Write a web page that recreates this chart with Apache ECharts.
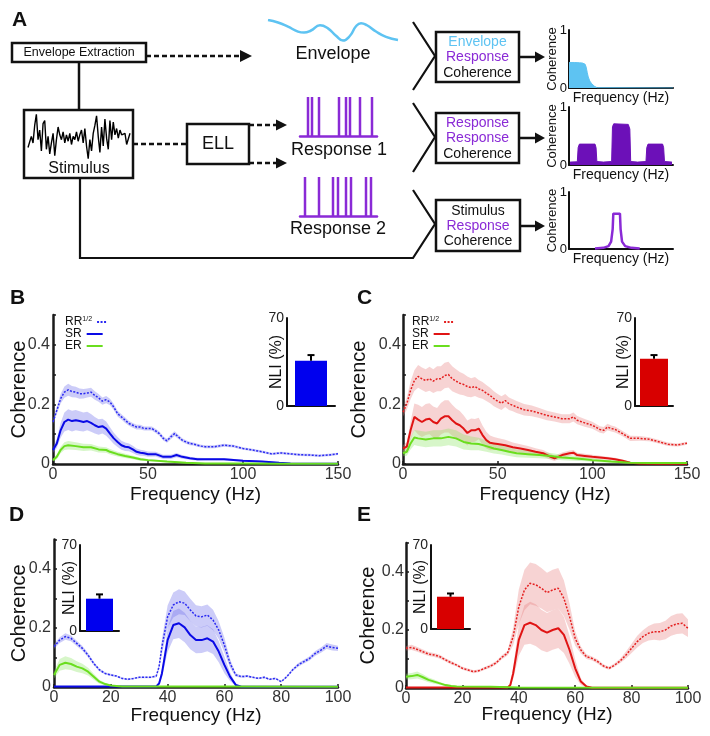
<!DOCTYPE html>
<html><head><meta charset="utf-8">
<script src="https://cdn.jsdelivr.net/npm/echarts@6/dist/echarts.min.js"></script>
<style>html,body{margin:0;padding:0;background:#fff}#c{width:710px;height:736px}</style>
</head><body><div id="c"></div>
<script>
// ---------- DATA ----------
// each curve point: [frequency Hz, mean coherence, half-width of shaded band]
const B_RR = [[0,0.141,0.008],[2,0.18,0.012],[4,0.219,0.016],[6,0.241,0.019],[8,0.249,0.02],[10,0.243,0.019],[12,0.241,0.018],[14,0.236,0.017],[16,0.236,0.016],[18,0.238,0.015],[20,0.241,0.015],[22,0.23,0.014],[24,0.222,0.013],[26,0.211,0.012],[28,0.216,0.012],[30,0.208,0.011],[32,0.191,0.01],[34,0.169,0.01],[36,0.158,0.009],[38,0.147,0.009],[40,0.136,0.008],[42,0.13,0.008],[44,0.124,0.008],[46,0.124,0.008],[48,0.119,0.007],[50,0.119,0.007],[52,0.119,0.007],[54,0.111,0.007],[56,0.102,0.007],[58,0.086,0.007],[60,0.078,0.007],[62,0.091,0.008],[64,0.102,0.008],[66,0.091,0.007],[68,0.08,0.006],[70,0.074,0.006],[72,0.069,0.006],[74,0.067,0.005],[76,0.063,0.005],[78,0.06,0.005],[80,0.058,0.005],[85,0.058,0.005],[90,0.063,0.005],[95,0.06,0.005],[100,0.052,0.004],[105,0.047,0.004],[110,0.041,0.004],[115,0.034,0.004],[120,0.037,0.004],[125,0.034,0.004],[130,0.031,0.004],[135,0.03,0.004],[140,0.028,0.004],[145,0.03,0.004],[150,0.034,0.004]];
const B_SR = [[0,0.047,0.01],[2,0.069,0.015],[4,0.113,0.025],[6,0.141,0.032],[8,0.149,0.035],[10,0.144,0.035],[12,0.147,0.034],[14,0.144,0.033],[16,0.141,0.032],[18,0.144,0.031],[20,0.138,0.03],[22,0.13,0.028],[24,0.124,0.026],[26,0.127,0.025],[28,0.119,0.024],[30,0.102,0.021],[32,0.086,0.019],[34,0.074,0.017],[36,0.063,0.015],[38,0.058,0.014],[40,0.056,0.013],[42,0.049,0.012],[44,0.041,0.011],[46,0.038,0.01],[48,0.036,0.009],[50,0.033,0.009],[54,0.033,0.008],[58,0.024,0.007],[62,0.024,0.007],[65,0.03,0.007],[68,0.024,0.006],[72,0.019,0.005],[76,0.016,0.005],[80,0.016,0.004],[90,0.016,0.004],[100,0.011,0.003],[110,0.008,0.003],[119,0.004,0.002],[125,0.002,0.001],[135,0.001,0.001],[150,0.001,0.001]];
const B_ER = [[0,0.013,0.005],[2,0.024,0.008],[4,0.047,0.011],[6,0.06,0.013],[8,0.063,0.014],[12,0.06,0.013],[16,0.056,0.012],[20,0.056,0.011],[24,0.049,0.01],[28,0.047,0.009],[30,0.041,0.009],[34,0.033,0.008],[38,0.027,0.007],[42,0.022,0.006],[46,0.016,0.005],[50,0.013,0.004],[60,0.008,0.003],[70,0.004,0.002],[80,0.002,0.001],[100,0.002,0.001],[120,0.001,0.001],[150,0.001,0.001]];
const C_RR = [[0,0.174,0.015],[2,0.202,0.02],[4,0.247,0.03],[6,0.28,0.035],[8,0.294,0.038],[10,0.286,0.038],[12,0.28,0.038],[14,0.286,0.04],[16,0.278,0.04],[18,0.286,0.042],[20,0.286,0.042],[22,0.297,0.043],[24,0.3,0.043],[26,0.286,0.042],[28,0.278,0.04],[30,0.271,0.038],[32,0.267,0.036],[34,0.26,0.034],[36,0.256,0.032],[38,0.26,0.032],[40,0.252,0.03],[42,0.247,0.028],[44,0.238,0.027],[46,0.23,0.026],[48,0.219,0.025],[50,0.211,0.024],[52,0.204,0.023],[54,0.213,0.022],[56,0.202,0.021],[58,0.197,0.02],[60,0.191,0.02],[64,0.182,0.019],[68,0.178,0.018],[72,0.171,0.017],[76,0.163,0.016],[80,0.158,0.015],[84,0.152,0.015],[88,0.152,0.015],[90,0.158,0.015],[92,0.147,0.014],[96,0.138,0.013],[100,0.13,0.012],[104,0.116,0.011],[106,0.113,0.011],[108,0.124,0.011],[110,0.119,0.01],[112,0.116,0.01],[116,0.102,0.009],[120,0.086,0.009],[125,0.086,0.008],[130,0.083,0.007],[135,0.075,0.006],[140,0.066,0.006],[145,0.064,0.005],[150,0.07,0.005]];
const C_SR = [[0,0.052,0.012],[2,0.058,0.015],[4,0.113,0.03],[6,0.158,0.045],[8,0.149,0.05],[10,0.141,0.05],[12,0.149,0.052],[14,0.152,0.052],[16,0.141,0.052],[18,0.136,0.052],[20,0.152,0.053],[22,0.16,0.054],[24,0.16,0.054],[26,0.147,0.052],[28,0.136,0.05],[30,0.13,0.048],[32,0.119,0.045],[34,0.104,0.042],[36,0.113,0.04],[38,0.113,0.038],[40,0.119,0.036],[42,0.097,0.032],[44,0.08,0.028],[46,0.071,0.025],[48,0.069,0.022],[50,0.067,0.02],[54,0.063,0.018],[58,0.056,0.016],[62,0.052,0.014],[66,0.047,0.013],[70,0.041,0.012],[74,0.036,0.011],[78,0.024,0.01],[80,0.019,0.009],[84,0.03,0.009],[88,0.036,0.009],[90,0.038,0.009],[92,0.03,0.008],[96,0.027,0.007],[100,0.024,0.007],[104,0.022,0.006],[108,0.019,0.005],[112,0.016,0.005],[116,0.011,0.004],[120,0.004,0.003],[125,0.002,0.002],[135,0.001,0.001],[150,0.001,0.001]];
const C_ER = [[0,0.036,0.01],[2,0.041,0.013],[4,0.069,0.02],[6,0.089,0.025],[8,0.086,0.026],[12,0.082,0.026],[16,0.086,0.027],[20,0.086,0.027],[24,0.091,0.028],[28,0.086,0.027],[32,0.074,0.025],[36,0.069,0.023],[40,0.067,0.021],[44,0.06,0.019],[48,0.052,0.017],[52,0.047,0.015],[56,0.041,0.014],[60,0.036,0.013],[66,0.033,0.012],[72,0.03,0.011],[78,0.027,0.01],[84,0.022,0.009],[90,0.019,0.008],[96,0.016,0.007],[100,0.013,0.006],[110,0.008,0.005],[120,0.004,0.003],[130,0.003,0.002],[150,0.003,0.002]];
const D_RR = [[0,0.137,0.008],[2,0.159,0.01],[4,0.171,0.011],[6,0.165,0.01],[8,0.148,0.009],[10,0.131,0.008],[12,0.108,0.007],[14,0.08,0.006],[16,0.058,0.005],[18,0.046,0.004],[20,0.041,0.004],[22,0.037,0.003],[24,0.029,0.003],[26,0.026,0.003],[28,0.029,0.003],[30,0.033,0.003],[32,0.033,0.003],[34,0.033,0.003],[36,0.037,0.004],[37,0.069,0.01],[38,0.137,0.025],[40,0.238,0.038],[42,0.278,0.042],[44,0.289,0.042],[46,0.284,0.04],[48,0.261,0.038],[50,0.241,0.036],[52,0.238,0.036],[54,0.244,0.036],[56,0.227,0.035],[58,0.193,0.03],[60,0.142,0.025],[62,0.08,0.015],[64,0.041,0.006],[66,0.035,0.004],[68,0.037,0.004],[70,0.033,0.003],[72,0.029,0.003],[74,0.033,0.003],[76,0.026,0.003],[78,0.029,0.003],[80,0.018,0.003],[82,0.035,0.004],[84,0.058,0.005],[86,0.075,0.006],[88,0.086,0.006],[90,0.097,0.007],[92,0.114,0.008],[94,0.125,0.009],[96,0.139,0.01],[98,0.134,0.01],[100,0.131,0.009]];
const D_SR = [[0,0.002,0.001],[20,0.002,0.001],[36,0.002,0.001],[37,0.012,0.005],[38,0.046,0.015],[40,0.159,0.04],[42,0.21,0.048],[44,0.216,0.05],[46,0.202,0.05],[48,0.176,0.048],[50,0.159,0.045],[52,0.159,0.044],[54,0.165,0.044],[56,0.154,0.042],[58,0.12,0.036],[60,0.075,0.028],[62,0.035,0.015],[64,0.007,0.004],[66,0.001,0.001],[100,0.001,0.001]];
const D_ER = [[0,0.041,0.012],[2,0.075,0.02],[4,0.082,0.022],[6,0.078,0.02],[8,0.069,0.018],[10,0.063,0.016],[12,0.052,0.013],[14,0.035,0.01],[16,0.018,0.007],[18,0.01,0.004],[20,0.005,0.002],[24,0.002,0.001],[60,0.002,0.001],[100,0.001,0.001]];
const E_RR = [[0,0.137,0.008],[2,0.14,0.009],[4,0.133,0.008],[6,0.125,0.008],[8,0.117,0.007],[10,0.114,0.007],[12,0.108,0.007],[14,0.097,0.006],[16,0.087,0.006],[18,0.079,0.005],[20,0.068,0.005],[22,0.062,0.005],[24,0.056,0.005],[26,0.06,0.005],[28,0.068,0.005],[30,0.076,0.006],[32,0.087,0.006],[34,0.106,0.007],[36,0.12,0.008],[38,0.177,0.03],[40,0.28,0.06],[42,0.338,0.07],[44,0.361,0.072],[46,0.356,0.072],[48,0.344,0.07],[50,0.329,0.068],[52,0.338,0.07],[54,0.344,0.07],[56,0.309,0.062],[58,0.246,0.045],[60,0.171,0.025],[62,0.131,0.012],[64,0.108,0.008],[66,0.102,0.007],[68,0.091,0.007],[70,0.076,0.006],[72,0.068,0.005],[74,0.079,0.006],[76,0.094,0.008],[78,0.114,0.012],[80,0.137,0.016],[82,0.16,0.02],[84,0.177,0.022],[86,0.189,0.025],[88,0.194,0.028],[90,0.194,0.03],[92,0.2,0.032],[94,0.214,0.034],[96,0.221,0.035],[98,0.223,0.035],[100,0.206,0.03]];
const E_SR = [[0,0.002,0.001],[36,0.002,0.001],[37,0.01,0.004],[38,0.05,0.02],[40,0.166,0.055],[42,0.217,0.068],[44,0.225,0.072],[46,0.217,0.072],[48,0.2,0.07],[50,0.191,0.068],[52,0.2,0.068],[54,0.206,0.068],[56,0.183,0.062],[58,0.131,0.048],[60,0.068,0.03],[62,0.022,0.012],[64,0.005,0.003],[66,0.001,0.001],[100,0.001,0.001]];
const E_ER = [[0,0.039,0.01],[2,0.041,0.011],[4,0.045,0.012],[6,0.037,0.01],[8,0.028,0.008],[10,0.022,0.007],[12,0.016,0.005],[14,0.01,0.004],[16,0.007,0.003],[18,0.005,0.002],[30,0.004,0.002],[40,0.002,0.001],[100,0.001,0.001]];

// NLI insets (B, C, D, E): mean % and error bar
const NLI_MEAN = [36, 37.5, 26.3, 26.9];
const NLI_ERR = [4.5, 3.0, 3.5, 2.7];

// tick labels
const X_TICKS_BC = [0, 50, 100, 150];
const X_TICKS_DE = [0, 20, 40, 60, 80, 100];
const Y_TICK_VALUES = [0, 0.2, 0.4];
const Y_TICK_LABELS = ['0', '0.2', '0.4'];

// schematic (panel A) illustrative traces
const STIMULUS = [-0.31,-0.38,0.13,-0.13,0.56,1.0,0,0.38,-0.44,0.63,0.75,-0.38,0.13,-0.56,-0.13,0.25,-0.63,0,0.5,0.19,0,0.31,-0.13,0.19,-0.06,0.25,-0.19,0.13,0,0.31,-0.06,0.19,0.38,-0.13,0.44,-0.25,-0.75,0,-0.44,0.25,0.56,0.94,0.13,-0.5,0.5,-0.25,0.81,0.06,-0.38,0.75,0,0.69,0.19,0.44,0.06,0.38,0.19,0.13,0.25,-0.19,-0.25,0.25];
const ENVELOPE = [[0,1.0],[10,0.88],[20,0.68],[30,0.45],[36,0.4],[43,0.5],[52,0.75],[60,0.6],[68,0.25],[75,0.02],[82,0.25],[88,0.7],[93,0.85],[99,0.75],[108,0.45],[118,0.2],[130,0.05]];
const SPIKES_1 = [8, 12, 19, 39, 46, 50, 60, 72];
const SPIKES_2 = [5, 19, 33, 38, 46, 51, 66, 71];
const MINI_ENV = [[0,0.44],[5,0.44],[10,0.435],[13,0.43],[15.5,0.41],[16.5,0.36],[17.5,0.27],[18.5,0.19],[20,0.12],[22,0.07],[24.5,0.03],[27,0.005],[28,0],[100,0]];
const MINI_RR = [[1,0.05],[8,0.055],[8.8,0.3],[10,0.36],[25,0.36],[26,0.3],[26.8,0.06],[33,0.05],[41,0.06],[41.8,0.66],[43,0.71],[57,0.7],[58.5,0.62],[59.3,0.06],[66,0.05],[74,0.06],[74.8,0.3],[76,0.36],[90,0.36],[91,0.3],[91.8,0.06],[99,0.05]];
const MINI_SR = [[25,0.01],[33,0.02],[38,0.05],[40.5,0.13],[42,0.35],[42.6,0.62],[49,0.62],[49.6,0.35],[51,0.13],[54,0.05],[60,0.02],[68,0.01]];

// ---------- BUILD ----------
const FF = '"Liberation Sans", Arial, Helvetica, sans-serif';
const INK = '#111';
const PURPLE = '#8a2ad6';
const LBLUE = '#5ec3f2';
const grids = [], xAxes = [], yAxes = [], series = [], legends = [];

function hiddenAxes(gi, xmin, xmax, ymin, ymax) {
  xAxes.push({gridIndex: gi, type: 'value', min: xmin, max: xmax, show: false});
  yAxes.push({gridIndex: gi, type: 'value', min: ymin, max: ymax, show: false});
}

// stimulus trace
(function () {
  const gi = grids.length;
  grids.push({left: 28, top: 113, width: 102, height: 47, outerBoundsMode: 'none'});
  hiddenAxes(gi, 0, STIMULUS.length - 1, -0.8, 1.05);
  series.push({type: 'line', xAxisIndex: gi, yAxisIndex: gi, symbol: 'none', silent: true,
    lineStyle: {color: '#000', width: 1.4}, data: STIMULUS.map((v, i) => [i, v])});
})();
// envelope wave
(function () {
  const gi = grids.length;
  grids.push({left: 268, top: 20, width: 130, height: 21, outerBoundsMode: 'none'});
  hiddenAxes(gi, 0, 130, 0, 1);
  series.push({type: 'line', xAxisIndex: gi, yAxisIndex: gi, symbol: 'none', silent: true, smooth: 0.5,
    lineStyle: {color: LBLUE, width: 2.5}, data: ENVELOPE});
})();
// spike trains
[[SPIKES_1, 97], [SPIKES_2, 177]].forEach(([sp, top]) => {
  const gi = grids.length;
  grids.push({left: 300, top: top, width: 77, height: 39, outerBoundsMode: 'none'});
  xAxes.push({gridIndex: gi, type: 'value', min: 0, max: 77, axisLine: {show: true, lineStyle: {color: PURPLE, width: 2.5}},
    axisTick: {show: false}, axisLabel: {show: false}, splitLine: {show: false}});
  yAxes.push({gridIndex: gi, type: 'value', min: 0, max: 1, show: false});
  series.push({type: 'bar', xAxisIndex: gi, yAxisIndex: gi, barWidth: 2.5, silent: true,
    itemStyle: {color: PURPLE}, data: sp.map(t => [t, 1])});
});
// mini coherence charts
[[30, 58, MINI_ENV, LBLUE, true], [107, 58, MINI_RR, '#6c10b8', true], [192, 57, MINI_SR, PURPLE, false]].forEach(([top, h, d, col, fill]) => {
  const gi = grids.length;
  grids.push({left: 569, top: top, width: 104, height: h, outerBoundsMode: 'none'});
  xAxes.push({gridIndex: gi, type: 'value', min: 0, max: 100, axisLine: {show: true, lineStyle: {color: INK, width: 2}},
    axisTick: {show: false}, axisLabel: {show: false}, splitLine: {show: false}, nameMoveOverlap: false,
    name: 'Frequency (Hz)', nameLocation: 'middle', nameGap: 3, nameTextStyle: {fontSize: 14, color: INK, fontFamily: FF, verticalAlign: 'top'}});
  yAxes.push({gridIndex: gi, type: 'value', min: 0, max: 1, interval: 1, axisLine: {show: true, lineStyle: {color: INK, width: 2}},
    axisTick: {show: false}, axisLabel: {fontSize: 13, color: INK, margin: 2, fontFamily: FF}, splitLine: {show: false},
    nameMoveOverlap: false,
    name: 'Coherence', nameLocation: 'middle', nameGap: 10, nameTextStyle: {fontSize: 13, color: INK, fontFamily: FF}});
  const s = {type: 'line', xAxisIndex: gi, yAxisIndex: gi, symbol: 'none', silent: true, data: d,
    lineStyle: {color: col, width: fill ? 1 : 2.5}, z: 3};
  if (fill) s.areaStyle = {color: col, opacity: 1};
  series.push(s);
});

function legendFor(name, left, top, w, label) {
  legends.push({left: left, top: top, orient: 'vertical', align: 'right', itemWidth: w, itemHeight: 10, itemGap: 0, padding: 0,
    selectedMode: false, data: [name], formatter: () => label,
    itemStyle: {color: 'transparent', borderWidth: 0, opacity: 0},
    textStyle: {fontSize: 12, color: INK, fontFamily: FF, rich: {sup: {fontSize: 7, verticalAlign: 'top', color: INK, fontFamily: FF}}}});
}

// shaded band (mean ± half-width) drawn as one polygon through the grid's own coordinate system
function bandSeries(gi, c) {
  return {type: 'custom', xAxisIndex: gi, yAxisIndex: gi, silent: true, clip: true, z: 1,
    data: c.data.map(p => [p[0], p[1], p[2]]),
    renderItem: (params, api) => {
      if (params.dataIndex !== 0) return null;
      const top = [], bot = [];
      c.data.forEach(p => {
        top.push(api.coord([p[0], p[1] + p[2]]));
        bot.push(api.coord([p[0], Math.max(0, p[1] - p[2])]));
      });
      return {type: 'polygon', shape: {points: top.concat(bot.reverse())}, style: {fill: c.band}};
    }};
}

function panel(cfg) {
  const gi = grids.length;
  grids.push({left: cfg.left, top: cfg.top, width: cfg.width, height: cfg.height, outerBoundsMode: 'none'});
  xAxes.push({gridIndex: gi, type: 'value', min: 0, max: cfg.xMax, interval: cfg.xStep,
    axisLine: {show: true, onZero: false, lineStyle: {color: '#1a1a1a', width: 2.5}},
    axisTick: {show: true, inside: true, length: 3, lineStyle: {color: '#1a1a1a', width: 1.5}},
    axisLabel: {fontSize: 16, color: '#333', margin: 3, fontFamily: FF, formatter: v => cfg.xTicks.indexOf(v) >= 0 ? String(v) : ''},
    splitLine: {show: false}, nameMoveOverlap: false,
    name: 'Frequency (Hz)', nameLocation: 'middle', nameGap: cfg.xNameGap, nameTextStyle: {fontSize: 19, color: INK, fontFamily: FF}});
  yAxes.push({gridIndex: gi, type: 'value', min: 0, max: 0.5, interval: 0.1,
    axisLine: {show: true, onZero: false, lineStyle: {color: '#1a1a1a', width: 2.5}},
    axisTick: {show: true, inside: true, length: 3, lineStyle: {color: '#1a1a1a', width: 1.5}},
    axisLabel: {fontSize: 16, color: '#333', margin: cfg.yMargin, fontFamily: FF, formatter: v => {
      const r = Math.round(v * 10) / 10; const i = Y_TICK_VALUES.indexOf(r); return i >= 0 ? Y_TICK_LABELS[i] : ''; }},
    splitLine: {show: false}, nameMoveOverlap: false,
    name: 'Coherence', nameLocation: 'middle', nameGap: cfg.yNameGap, nameTextStyle: {fontSize: 20, color: INK, fontFamily: FF}});
  cfg.curves.forEach(c => series.push(bandSeries(gi, c)));
  cfg.curves.forEach(c => {
    series.push({type: 'line', name: c.name, xAxisIndex: gi, yAxisIndex: gi, symbol: 'none', showSymbol: false, silent: true,
      lineStyle: {color: c.color, width: c.width, type: c.dash || 'solid'}, itemStyle: {color: c.color},
      data: c.data.map(p => [p[0], p[1]]), z: 3});
  });
  if (cfg.legendLeft != null) {
    legendFor(cfg.curves[0].name, cfg.legendLeft, 316, 10, 'RR{sup|1/2}');
    legendFor(cfg.curves[1].name, cfg.legendLeft, 328, 16, 'SR');
    legendFor(cfg.curves[2].name, cfg.legendLeft, 340, 16, 'ER');
  }
  // inset NLI bar
  const ins = cfg.inset;
  const ii = grids.length;
  grids.push({left: ins.left, top: ins.top, width: ins.width, height: ins.height, outerBoundsMode: 'none'});
  xAxes.push({gridIndex: ii, type: 'category', data: ['NLI'], axisLine: {show: true, lineStyle: {color: INK, width: 2}},
    axisTick: {show: false}, axisLabel: {show: false}, splitLine: {show: false}});
  yAxes.push({gridIndex: ii, type: 'value', min: 0, max: 70, interval: 70,
    axisLine: {show: true, lineStyle: {color: INK, width: 2}}, axisTick: {show: false},
    axisLabel: {fontSize: 14, color: '#222', margin: 3, fontFamily: FF}, splitLine: {show: false},
    nameMoveOverlap: false,
    name: 'NLI (%)', nameLocation: 'middle', nameGap: ins.nameGap, nameTextStyle: {fontSize: 16, color: INK, fontFamily: FF}});
  series.push({type: 'bar', xAxisIndex: ii, yAxisIndex: ii, barWidth: ins.barWidth, silent: true,
    itemStyle: {color: cfg.barColor}, data: [NLI_MEAN[cfg.idx]], z: 3});
  series.push({type: 'custom', xAxisIndex: ii, yAxisIndex: ii, silent: true, z: 4,
    data: [[0, NLI_MEAN[cfg.idx], NLI_ERR[cfg.idx]]],
    renderItem: (params, api) => {
      const x = api.value(0), v = api.value(1), e = api.value(2);
      const a = api.coord([x, v]), b = api.coord([x, v + e]);
      return {type: 'group', children: [
        {type: 'line', shape: {x1: a[0], y1: a[1], x2: b[0], y2: b[1]}, style: {stroke: '#000', lineWidth: 2}},
        {type: 'line', shape: {x1: b[0] - 3.5, y1: b[1], x2: b[0] + 3.5, y2: b[1]}, style: {stroke: '#000', lineWidth: 2}}]};
    }});
}

const BLUE_BAND = 'rgba(110,110,235,0.35)';
const RED_BAND = 'rgba(230,120,120,0.33)';
const GREEN_BAND = 'rgba(140,230,100,0.35)';
const BLUE = '#0a0ae6', RED = '#e01414', GREEN = '#6ade1e';
const blueSet = (RR, SR, ER, k) => [
  {name: k + ' RR', data: RR, color: '#2a2af2', band: BLUE_BAND, width: 1.5, dash: [2, 1.5]},
  {name: k + ' SR', data: SR, color: BLUE, band: BLUE_BAND, width: 2},
  {name: k + ' ER', data: ER, color: GREEN, band: GREEN_BAND, width: 2}];
const redSet = (RR, SR, ER, k) => [
  {name: k + ' RR', data: RR, color: '#e42020', band: RED_BAND, width: 1.5, dash: [2, 1.5]},
  {name: k + ' SR', data: SR, color: RED, band: RED_BAND, width: 2},
  {name: k + ' ER', data: ER, color: GREEN, band: GREEN_BAND, width: 2}];

panel({key: 'B', idx: 0, left: 53, top: 315, width: 285, height: 149, xMax: 150, xStep: 50, xTicks: X_TICKS_BC,
  xNameGap: 21, yNameGap: 24, yMargin: 3, legendLeft: 65, curves: blueSet(B_RR, B_SR, B_ER, 'B'), barColor: '#0000ee',
  inset: {left: 287, top: 318, width: 48, height: 88, barWidth: 32, nameGap: 2}});
panel({key: 'C', idx: 1, left: 403, top: 315, width: 284, height: 149, xMax: 150, xStep: 50, xTicks: X_TICKS_BC,
  xNameGap: 21, yNameGap: 34, yMargin: 2, legendLeft: 412, curves: redSet(C_RR, C_SR, C_ER, 'C'), barColor: '#d80000',
  inset: {left: 635, top: 318, width: 38, height: 88, barWidth: 28, nameGap: 3}});
panel({key: 'D', idx: 2, left: 54, top: 539.5, width: 284, height: 147.5, xMax: 100, xStep: 20, xTicks: X_TICKS_DE,
  xNameGap: 19, yNameGap: 25, yMargin: 3, legendLeft: null, curves: blueSet(D_RR, D_SR, D_ER, 'D'), barColor: '#0000ee',
  inset: {left: 80, top: 545, width: 39, height: 86, barWidth: 27, nameGap: 2}});
panel({key: 'E', idx: 3, left: 406, top: 543, width: 282, height: 145, xMax: 100, xStep: 20, xTicks: X_TICKS_DE,
  xNameGap: 17, yNameGap: 28, yMargin: 2, legendLeft: null, curves: redSet(E_RR, E_SR, E_ER, 'E'), barColor: '#d80000',
  inset: {left: 431, top: 545, width: 39, height: 84, barWidth: 27, nameGap: 2}});

// ---------- schematic graphics ----------
const G = [];
const rect = (x, y, w, h) => G.push({type: 'rect', shape: {x, y, width: w, height: h}, style: {fill: 'transparent', stroke: INK, lineWidth: 2.5}, silent: true, z: 10});
const poly = (pts, dash, lw) => G.push({type: 'polyline', shape: {points: pts}, style: {fill: null, stroke: INK, lineWidth: lw || 2.5, lineDash: dash || null}, silent: true, z: 10});
const head = (x, y, len, half) => G.push({type: 'polygon', shape: {points: [[x - len, y - half], [x, y], [x - len, y + half]]}, style: {fill: INK}, silent: true, z: 10});
const txt = (s, x, y, size, color, weight, align) => G.push({type: 'text', silent: true, z: 10,
  style: {text: s, x, y, fontSize: size, fontFamily: FF, fontWeight: weight || 'normal', fill: color || INK,
    align: align || 'center', verticalAlign: 'middle', textAlign: align || 'center', textVerticalAlign: 'middle'}});

const DASH = [5, 3];
txt('A', 12, 20, 21, INK, 'bold', 'left');
rect(12, 43, 134, 19);
txt('Envelope Extraction', 79, 53, 12.5);
poly([[146, 56], [241, 56]], DASH); head(252, 56, 12, 6);
poly([[79, 62], [79, 110]]);
rect(24, 110, 109, 68);
txt('Stimulus', 79, 169, 16);
poly([[133, 144], [187, 144]], DASH);
rect(187, 124, 62, 40);
txt('ELL', 218, 144, 18);
poly([[249, 125], [277, 125]], DASH); head(287, 125, 11, 5.5);
poly([[249, 163], [277, 163]], DASH); head(287, 163, 11, 5.5);
txt('Envelope', 333, 54, 18);
txt('Response 1', 339, 150, 18);
txt('Response 2', 338, 229, 18);
poly([[80, 178], [80, 258], [413, 258], [435, 224], [413, 190]], null, 2.2);
poly([[413, 22], [435, 56], [413, 90]], null, 2.2);
poly([[413, 103], [435, 137], [413, 172]], null, 2.2);
rect(436, 32, 83, 50); rect(436, 113, 83, 50); rect(436, 200, 84, 51);
txt('Envelope', 477.5, 42, 14, LBLUE); txt('Response', 477.5, 57, 14, PURPLE); txt('Coherence', 477.5, 73, 14);
txt('Response', 477.5, 123, 14, PURPLE); txt('Response', 477.5, 138, 14, PURPLE); txt('Coherence', 477.5, 154, 14);
txt('Stimulus', 478, 211, 14); txt('Response', 478, 226, 14, PURPLE); txt('Coherence', 478, 241, 14);
poly([[519, 57], [537, 57]]); head(545, 57, 10, 5.5);
poly([[519, 138], [537, 138]]); head(545, 138, 10, 5.5);
poly([[520, 226], [537, 226]]); head(545, 226, 10, 5.5);
txt('B', 10, 298, 21, INK, 'bold', 'left');
txt('C', 357, 298, 21, INK, 'bold', 'left');
txt('D', 9, 515, 21, INK, 'bold', 'left');
txt('E', 357, 515, 21, INK, 'bold', 'left');

const chart = echarts.init(document.getElementById('c'), null, {renderer: 'canvas'});
chart.setOption({
  animation: false,
  backgroundColor: '#fff',
  textStyle: {fontFamily: FF},
  grid: grids, xAxis: xAxes, yAxis: yAxes, series: series, legend: legends,
  graphic: {elements: G}
});
</script></body></html>
